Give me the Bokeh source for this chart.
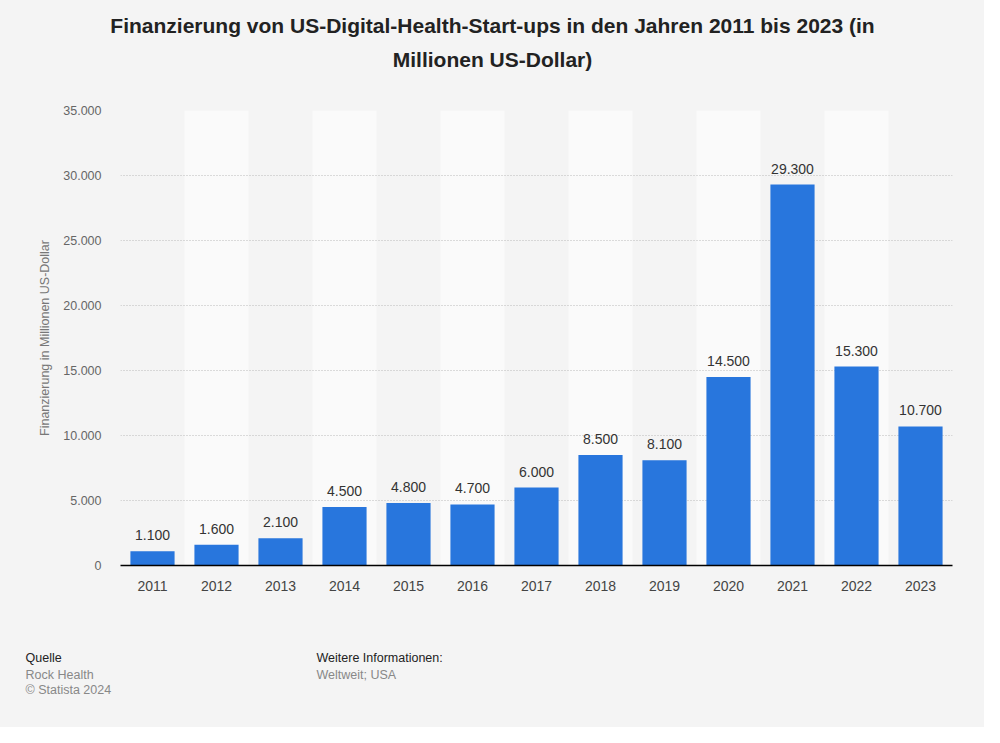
from bokeh.plotting import figure
from bokeh.layouts import column
from bokeh.models import (FactorRange, Range1d, ColumnDataSource,
                          CustomJSTickFormatter, FixedTicker)
from bokeh.core.properties import value
from bokeh.embed import file_html
from bokeh.resources import INLINE

years = ["2011", "2012", "2013", "2014", "2015", "2016", "2017",
         "2018", "2019", "2020", "2021", "2022", "2023"]
funding = [1100, 1600, 2100, 4500, 4800, 4700, 6000,
           8500, 8100, 14500, 29300, 15300, 10700]
value_labels = ["1.100", "1.600", "2.100", "4.500", "4.800", "4.700", "6.000",
                "8.500", "8.100", "14.500", "29.300", "15.300", "10.700"]
y_ticks = [0, 5000, 10000, 15000, 20000, 25000, 30000, 35000]
band_years = years[1::2]

title_lines = ["Finanzierung von US-Digital-Health-Start-ups in den Jahren 2011 bis 2023 (in",
               "Millionen US-Dollar)"]
y_label = "Finanzierung in Millionen US-Dollar"
footer_left = ["Quelle", "Rock Health", "\u00a9 Statista 2024"]
footer_right = ["Weitere Informationen:", "Weltweit; USA"]

FONT = "Liberation Sans"
BG = "#f4f4f4"
W = 984
HEAD_H, MAIN_H, FOOT_H = 90, 550, 87


def text_panel(h):
    f = figure(width=W, height=h, x_range=Range1d(0, W), y_range=Range1d(h, 0),
               output_backend="svg", toolbar_location=None,
               x_axis_location=None, y_axis_location=None, min_border=0,
               frame_align=False)
    f.background_fill_color = BG
    f.border_fill_color = BG
    f.outline_line_color = None
    f.grid.visible = False
    return f


# header
head = text_panel(HEAD_H)
head.text(x=[492] * 2, y=[25, 59], text=title_lines,
          text_align="center", text_baseline="middle",
          text_font=value(FONT), text_font_style="bold", text_font_size="21px",
          text_color="#222222")

# main chart
p = figure(width=W, height=MAIN_H, x_range=FactorRange(*years), y_range=Range1d(0, 35000),
           output_backend="svg", toolbar_location=None,
           min_border_left=120, min_border_right=32, min_border_top=20,
           min_border_bottom=75, frame_align=False)
p.background_fill_color = BG
p.border_fill_color = BG
p.outline_line_color = None

src = ColumnDataSource(dict(years=years, funding=funding, labels=value_labels))

p.vbar(x=band_years, top=[35000] * len(band_years), width=1.0,
       fill_color="#fafafa", line_color=None, level="underlay")

p.vbar(x="years", top="funding", source=src, width=0.69,
       fill_color="#2876dd", line_color=None)

p.text(x="years", y="funding", text="labels", source=src,
       text_align="center", text_baseline="bottom", y_offset=-11,
       text_font=value(FONT), text_font_size="14px", text_color="#333333")

p.xaxis.axis_line_color = "#000000"
p.xaxis.axis_line_width = 1.5
p.xaxis.major_tick_line_color = None
p.xaxis.minor_tick_line_color = None
p.xaxis.major_label_text_font = FONT
p.xaxis.major_label_text_font_size = "14px"
p.xaxis.major_label_text_color = "#444444"
p.xaxis.major_label_standoff = 9

p.yaxis.ticker = FixedTicker(ticks=y_ticks)
p.yaxis.formatter = CustomJSTickFormatter(
    code="return tick.toString().replace(/\\B(?=(\\d{3})+(?!\\d))/g, '.');")
p.yaxis.axis_line_color = None
p.yaxis.major_tick_line_color = None
p.yaxis.minor_tick_line_color = None
p.yaxis.major_label_text_font = FONT
p.yaxis.major_label_text_font_size = "12.5px"
p.yaxis.major_label_text_color = "#666666"
p.yaxis.major_label_standoff = 13
p.yaxis.axis_label = y_label
p.yaxis.axis_label_text_font = FONT
p.yaxis.axis_label_text_font_style = "normal"
p.yaxis.axis_label_text_font_size = "12.5px"
p.yaxis.axis_label_text_color = "#777777"
p.yaxis.axis_label_standoff = 8

p.xgrid.grid_line_color = None
p.ygrid.grid_line_color = "#bbbbbb"
p.ygrid.grid_line_dash = "1 2"
p.ygrid.grid_line_width = 1

# footer
foot = text_panel(FOOT_H)
foot.text(x=[25] * 3, y=[17, 34, 49], text=footer_left,
          text_color=["#222222", "#888888", "#888888"],
          text_align="left", text_baseline="middle",
          text_font=value(FONT), text_font_size="12.5px")
foot.text(x=[316] * 2, y=[17, 34], text=footer_right,
          text_color=["#222222", "#888888"],
          text_align="left", text_baseline="middle",
          text_font=value(FONT), text_font_size="12.5px")

layout = column(head, p, foot, spacing=0, styles={"background-color": BG})
open("out.html", "w").write(file_html(layout, INLINE))
